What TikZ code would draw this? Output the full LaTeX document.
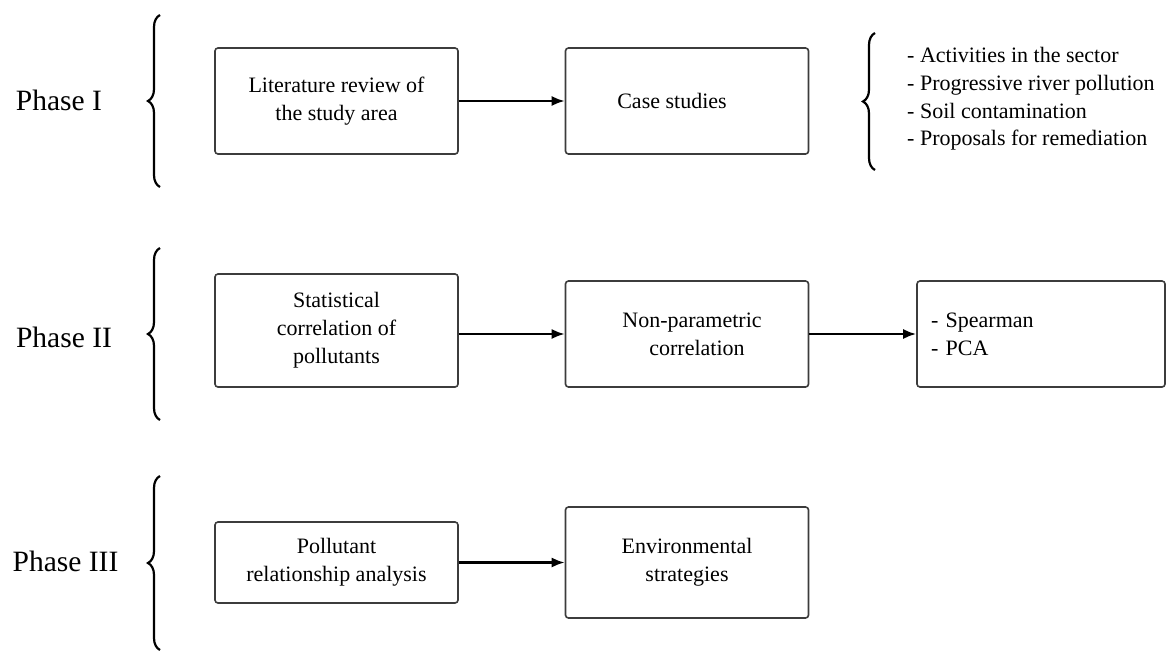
\documentclass[tikz,border=0pt]{standalone}
\usepackage{fontspec}
\setmainfont{LiberationSerif-Regular.ttf}
\usetikzlibrary{arrows.meta,decorations.pathreplacing}
\definecolor{boxline}{HTML}{3C3C3C}
\tikzset{
  box/.style={draw=boxline, line width=1.6pt, rounded corners=3pt, fill=white,
    minimum width=243pt, minimum height=106pt, align=center, inner sep=4pt,
    font=\fontsize{22}{28}\selectfont},
  phase/.style={font=\fontsize{29.5}{34}\selectfont, inner sep=0pt},
  flow/.style={line width=2.2pt, -{Latex[length=13pt,width=10pt]}},
  curly/.style={line width=2.2pt, decorate, decoration={brace, amplitude=12pt}},
  listtext/.style={font=\fontsize{22}{27.7}\selectfont, align=left, inner sep=0pt}
}
\begin{document}
\begin{tikzpicture}[x=1pt,y=-1pt]
\useasboundingbox (0,0) rectangle (1175,659);
\fill[white] (0,0) rectangle (1175,659);

% phase labels
\node[phase] (p1) at (59,100) {Phase I};
\node[phase] (p2) at (64,337) {Phase II};
\node[phase] (p3) at (65.5,561) {Phase III};

% braces
\coordinate (b1s) at (160,187); \coordinate (b1e) at (160,15);
\coordinate (b2s) at (160,420); \coordinate (b2e) at (160,248);
\coordinate (b3s) at (160,650); \coordinate (b3e) at (160,476);
\coordinate (b4s) at (875,170); \coordinate (b4e) at (875,33);
\draw[curly] (b1s) -- (b1e);
\draw[curly] (b2s) -- (b2e);
\draw[curly] (b3s) -- (b3e);
\draw[curly] (b4s) -- (b4e);

% row 1
\node[box] (lit) at (336.5,101) {Literature review of\\the study area};
\node[box] (case) at (687,101) {Case studies\hspace*{30pt}};
\node[listtext, anchor=west] (list1) at (907,99) {- Activities in the sector\\- Progressive river pollution\\- Soil contamination\\- Proposals for remediation};

% row 2
\node[box, minimum height=113pt] (stat) at (336.5,330.5) {Statistical\\correlation of\\pollutants};
\node[box] (nonp) at (687,334) {\hspace*{10pt}Non-parametric\\\hspace*{20pt}correlation};
\node[box, minimum width=248pt, text width=220pt, align=left, inner xsep=14pt] (spear) at (1041,334) {- Spearman\\- PCA};

% row 3
\node[box, minimum height=81pt] (poll) at (336.5,562.5) {Pollutant\\relationship analysis};
\node[box, minimum height=111pt] (env) at (687,562.5) {Environmental\\strategies};

% arrows
\draw[flow] (lit.east) -- (case.west);
\draw[flow] (stat.east |- nonp.west) -- (nonp.west);
\draw[flow] (nonp.east) -- (spear.west);
\draw[flow] (poll.east) -- (env.west);
\end{tikzpicture}
\end{document}
